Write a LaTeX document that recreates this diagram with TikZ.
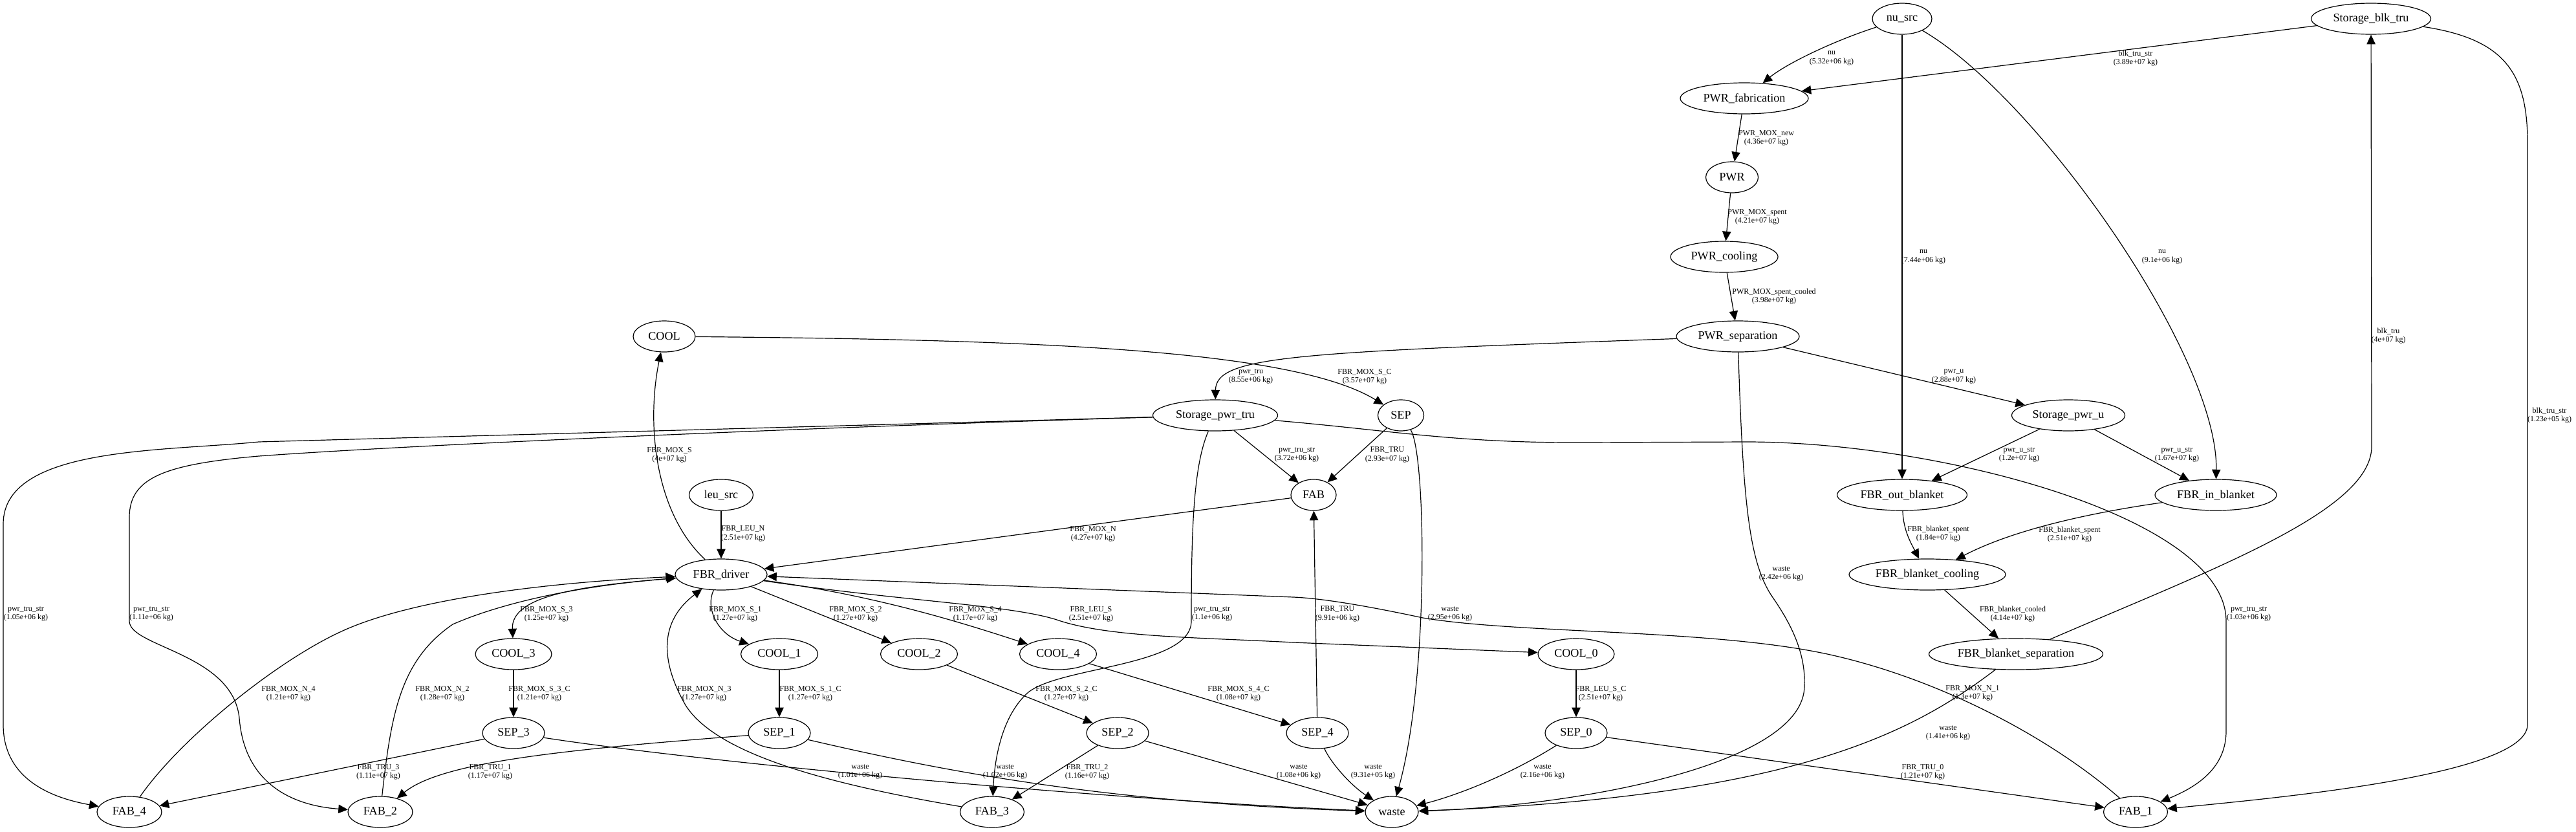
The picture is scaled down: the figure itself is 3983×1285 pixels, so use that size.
\documentclass[tikz,border=0pt]{standalone}
\usepackage{fontspec}
\setmainfont{Liberation Serif}
\usetikzlibrary{shapes.geometric, arrows.meta}

\begin{document}
\catcode`\_=12
\begin{tikzpicture}[x=0.75pt, y=-0.75pt,
  proc/.style={draw, ellipse, line width=0.9pt, inner sep=1pt, minimum height=36pt, font=\fontsize{13.6}{16}\selectfont},
  wd/.style={minimum width=#1*0.75pt},
  lbl/.style={align=center, inner sep=0pt, font=\fontsize{9}{10}\selectfont},
  flow/.style={line width=0.9pt, -{Triangle[length=11pt, width=10pt]}}]
  \useasboundingbox (0,0) rectangle (3983,1285);

  % facilities
  \foreach \nm/\x/\y/\w in {
    nu_src/2941/29/92, Storage_blk_tru/3666/29/185,
    PWR_fabrication/2697/152/198, PWR/2678/274/81,
    PWR_cooling/2666/397/166, PWR_separation/2687/520/190,
    COOL/1027/520/96, Storage_pwr_tru/1879/642/193,
    SEP/2166/642/71, Storage_pwr_u/3198/642/175,
    leu_src/1115/765/99, FAB/2031/765/70,
    FBR_out_blanket/2941/765/201, FBR_in_blanket/3426/765/188,
    FBR_driver/1115/888/142, FBR_blanket_cooling/2980/888/242,
    COOL_3/794/1011/118, COOL_1/1205/1011/119, COOL_2/1421/1011/119,
    COOL_4/1636/1011/119, COOL_0/2437/1011/118,
    FBR_blanket_separation/3117/1011/269,
    SEP_3/794/1133/96, SEP_1/1205/1133/96, SEP_2/1728/1133/96,
    SEP_4/2037/1133/96, SEP_0/2437/1133/96,
    FAB_4/200/1255/100, FAB_2/588/1255/100, FAB_3/1534/1255/99,
    waste/2152/1255/82, FAB_1/3302/1255/99}
    \node[proc, wd=\w] (\nm) at (\x,\y) {\nm};

  % PWR line
  \draw[flow] (nu_src) .. controls (2830,65) and (2760,100) .. (PWR_fabrication);
  \draw[flow] (Storage_blk_tru) -- (PWR_fabrication);
  \draw[flow] (PWR_fabrication) -- (PWR);
  \draw[flow] (PWR) -- (PWR_cooling);
  \draw[flow] (PWR_cooling) -- (PWR_separation);
  \draw[flow] (nu_src) -- (FBR_out_blanket);
  \draw[flow] (nu_src) .. controls (3150,150) and (3430,550) .. (FBR_in_blanket);
  \draw[flow] (FBR_blanket_separation) .. controls (3420,880) and (3667,790) .. (3667,690) -- (Storage_blk_tru);
  \draw[flow] (Storage_blk_tru) .. controls (3870,60) and (3908,110) .. (3908,220) -- (3908,1120)
    .. controls (3908,1200) and (3500,1235) .. (FAB_1);

  % PWR separation
  \draw[flow] (PWR_separation) .. controls (2000,545) and (1880,550) .. (Storage_pwr_tru);
  \draw[flow] (PWR_separation) -- (Storage_pwr_u);
  \draw[flow] (PWR_separation) .. controls (2695,780) and (2705,870) .. (2740,922)
    .. controls (2770,965) and (2792,1010) .. (2790,1060) .. controls (2790,1180) and (2450,1245) .. (waste);

  % COOL and SEP
  \draw[flow] (COOL) .. controls (1600,525) and (2000,540) .. (SEP);
  \draw[flow] (FBR_driver) .. controls (1010,790) and (1000,650) .. (COOL);
  \draw[flow] (Storage_pwr_tru) -- (FAB);
  \draw[flow] (SEP) -- (FAB);
  \draw[flow] (SEP) .. controls (2205,700) and (2210,1050) .. (waste);
  \draw[flow] (leu_src) -- (FBR_driver);
  \draw[flow] (FAB) -- (FBR_driver);

  % stored pwr tru to the fabs
  \draw[flow] (Storage_pwr_tru) -- (400,683) .. controls (250,698) and (5,690) .. (5,810) -- (5,1120)
    .. controls (5,1210) and (90,1235) .. (FAB_4);
  \draw[flow] (Storage_pwr_tru) .. controls (1200,662) and (600,690) .. (400,705)
    .. controls (250,718) and (200,740) .. (200,800) -- (200,960)
    .. controls (200,1000) and (360,1010) .. (370,1110) .. controls (378,1210) and (450,1245) .. (FAB_2);
  \draw[flow] (Storage_pwr_tru) .. controls (2150,665) and (2250,685) .. (2450,684) -- (2700,683)
    .. controls (3000,683) and (3442,800) .. (3442,960) -- (3442,1130)
    .. controls (3442,1185) and (3400,1215) .. (FAB_1);
  \draw[flow] (Storage_pwr_tru) .. controls (1845,720) and (1842,820) .. (1842,960)
    .. controls (1842,1030) and (1640,1030) .. (1590,1070) .. controls (1550,1105) and (1538,1170) .. (FAB_3);

  % FBR driver out
  \draw[flow] (FBR_driver) .. controls (900,905) and (790,920) .. (COOL_3);
  \draw[flow] (FBR_driver) .. controls (1090,940) and (1110,980) .. (COOL_1);
  \draw[flow] (FBR_driver) -- (COOL_2);
  \draw[flow] (FBR_driver) .. controls (1350,920) and (1480,960) .. (COOL_4);
  \draw[flow] (FBR_driver) .. controls (1400,930) and (1570,935) .. (1640,960)
    .. controls (1720,985) and (1850,985) .. (2000,993) -- (COOL_0);

  % cooling to separation
  \foreach \a/\b in {COOL_3/SEP_3, COOL_1/SEP_1, COOL_2/SEP_2, COOL_4/SEP_4, COOL_0/SEP_0}
    \draw[flow] (\a) -- (\b);

  % separation out
  \draw[flow] (SEP_3) -- (FAB_4);
  \draw[flow] (SEP_3) .. controls (1100,1180) and (1700,1235) .. (waste);
  \draw[flow] (SEP_1) .. controls (850,1160) and (680,1180) .. (FAB_2);
  \draw[flow] (SEP_1) .. controls (1450,1190) and (1700,1240) .. (waste);
  \draw[flow] (SEP_2) -- (FAB_3);
  \draw[flow] (SEP_2) -- (waste);
  \draw[flow] (SEP_4) -- (FAB);
  \draw[flow] (SEP_4) .. controls (2058,1180) and (2090,1215) .. (waste);
  \draw[flow] (SEP_0) .. controls (2330,1200) and (2250,1230) .. (waste);
  \draw[flow] (SEP_0) -- (FAB_1);

  % fabs back to the driver
  \draw[flow] (FAB_4) .. controls (280,1140) and (430,1020) .. (530,975) .. controls (640,925) and (850,900) .. (FBR_driver);
  \draw[flow] (FAB_2) .. controls (605,1100) and (620,1020) .. (700,965) .. controls (780,930) and (900,905) .. (FBR_driver);
  \draw[flow] (FAB_3) .. controls (1300,1215) and (1110,1170) .. (1060,1090) .. controls (1020,1020) and (1020,960) .. (FBR_driver);
  \draw[flow] (FAB_1) .. controls (3170,1140) and (3000,1050) .. (2830,1012) .. controls (2650,972) and (2350,980) .. (2200,955)
    .. controls (2130,940) and (2050,925) .. (2000,923) -- (FBR_driver);

  % blankets
  \draw[flow] (Storage_pwr_u) -- (FBR_out_blanket);
  \draw[flow] (Storage_pwr_u) -- (FBR_in_blanket);
  \draw[flow] (FBR_out_blanket) .. controls (2943,820) and (2955,840) .. (FBR_blanket_cooling);
  \draw[flow] (FBR_in_blanket) .. controls (3250,790) and (3120,815) .. (FBR_blanket_cooling);
  \draw[flow] (FBR_blanket_cooling) -- (FBR_blanket_separation);
  \draw[flow] (FBR_blanket_separation) .. controls (2960,1130) and (2780,1232) .. (waste);

  % flow labels
  \foreach \nm/\x/\y/\txt/\mass in {
    m_nu_fab/2832/90/nu/5.32e+06, m_blk_fab/3302/90/blk_tru_str/3.89e+07,
    m_fab_pwr/2731/213/PWR_MOX_new/4.36e+07, m_pwr_cool/2717/335/PWR_MOX_spent/4.21e+07,
    m_nu_out/2974/397/nu/7.44e+06, m_nu_in/3343/397/nu/9.1e+06,
    m_cool_sep/2743/458/PWR_MOX_spent_cooled/3.98e+07, m_bsep_blk/3693/519/blk_tru/4e+07,
    m_sep_ptru/1934/582/pwr_tru/8.55e+06, m_cool_fsep/2110/582/FBR_MOX_S_C/3.57e+07,
    m_sep_pu/3021/582/pwr_u/2.88e+07, m_blk_fab1/3942/642/blk_tru_str/1.23e+05,
    m_drv_cool/1035/703/FBR_MOX_S/4e+07, m_ptru_fab/2005/703/pwr_tru_str/3.72e+06,
    m_fsep_fab/2145/703/FBR_TRU/2.93e+07, m_pu_out/3122/703/pwr_u_str/1.2e+07,
    m_pu_in/3366/703/pwr_u_str/1.67e+07, m_leu_drv/1149/825/FBR_LEU_N/2.51e+07,
    m_fab_drv/1690/825/FBR_MOX_N/4.27e+07, m_out_bcool/2997/825/FBR_blanket_spent/1.84e+07,
    m_in_bcool/3200/826/FBR_blanket_spent/2.51e+07, m_psep_waste/2754/887/waste/2.42e+06,
    m_ptru_fab4/40/949/pwr_tru_str/1.05e+06, m_ptru_fab2/234/949/pwr_tru_str/1.11e+06,
    m_drv_cool3/845/949/FBR_MOX_S_3/1.25e+07, m_drv_cool1/1137/949/FBR_MOX_S_1/1.27e+07,
    m_drv_cool2/1323/949/FBR_MOX_S_2/1.27e+07, m_drv_cool4/1508/949/FBR_MOX_S_4/1.17e+07,
    m_drv_cool0/1687/949/FBR_LEU_S/2.51e+07, m_ptru_fab3/1874/949/pwr_tru_str/1.1e+06,
    m_sep4_fab/2068/949/FBR_TRU/9.91e+06, m_fsep_waste/2242/949/waste/2.95e+06,
    m_bcool_bsep/3112/949/FBR_blanket_cooled/4.14e+07, m_ptru_fab1/3477/949/pwr_tru_str/1.03e+06,
    m_fab4_drv/446/1072/FBR_MOX_N_4/1.21e+07, m_fab2_drv/684/1072/FBR_MOX_N_2/1.28e+07,
    m_cool3_sep3/834/1072/FBR_MOX_S_3_C/1.21e+07, m_fab3_drv/1089/1072/FBR_MOX_N_3/1.27e+07,
    m_cool1_sep1/1253/1072/FBR_MOX_S_1_C/1.27e+07, m_cool2_sep2/1649/1072/FBR_MOX_S_2_C/1.27e+07,
    m_cool4_sep4/1915/1072/FBR_MOX_S_4_C/1.08e+07, m_cool0_sep0/2475/1072/FBR_LEU_S_C/2.51e+07,
    m_fab1_drv/3050/1071/FBR_MOX_N_1/1.3e+07, m_bsep_waste/3012/1133/waste/1.41e+06,
    m_sep3_fab4/585/1193/FBR_TRU_3/1.11e+07, m_sep1_fab2/758/1193/FBR_TRU_1/1.17e+07,
    m_sep3_waste/1330/1193/waste/1.01e+06, m_sep1_waste/1554/1193/waste/1.02e+06,
    m_sep2_fab3/1681/1193/FBR_TRU_2/1.16e+07, m_sep2_waste/2008/1193/waste/1.08e+06,
    m_sep4_waste/2123/1193/waste/9.31e+05, m_sep0_waste/2385/1193/waste/2.16e+06,
    m_sep0_fab1/2973/1193/FBR_TRU_0/1.21e+07}
    \node[lbl] (\nm) at (\x,\y) {\txt\\(\mass{} kg)};
\end{tikzpicture}
\end{document}
